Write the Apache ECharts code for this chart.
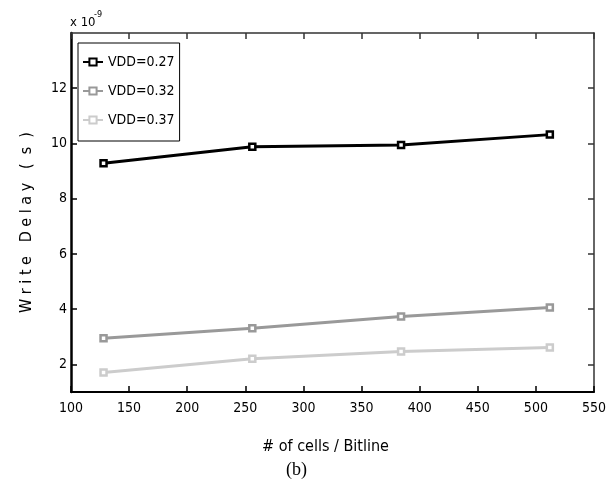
<!DOCTYPE html>
<html><head><meta charset="utf-8">
<script src="https://cdn.jsdelivr.net/npm/echarts@6/dist/echarts.min.js"></script>
<style>html,body{margin:0;padding:0;background:#fff}#c{width:615px;height:488px}</style>
</head><body><div id="c"></div>
<script>
const cells = [128, 256, 384, 512];
const vdd027 = [9.28, 9.88, 9.94, 10.32];
const vdd032 = [2.95, 3.31, 3.73, 4.06];
const vdd037 = [1.71, 2.20, 2.47, 2.61];
const seriesNames = ['VDD=0.27', 'VDD=0.32', 'VDD=0.37'];
const yTicks = [2, 4, 6, 8, 10, 12];

const FONT = "'Liberation Sans Narrow', 'Arial Narrow', 'DejaVu Sans Condensed', sans-serif";
const colors = ['#000000', '#999999', '#cccccc'];
const pair = (ys) => cells.map((x, i) => [x, ys[i]]);

function mkSeries(name, ys, col) {
  return {
    name, type: 'line', data: pair(ys),
    symbol: 'rect', symbolSize: 6,
    lineStyle: { color: col, width: 3 },
    itemStyle: { color: '#ffffff', borderColor: col, borderWidth: 2.5 },
    emphasis: { disabled: true }, animation: false
  };
}

const chart = echarts.init(document.getElementById('c'), null, { renderer: 'canvas' });
chart.setOption({
  backgroundColor: '#fff',
  animation: false,
  grid: { left: 71, right: 21, top: 33, bottom: 96, containLabel: false },
  legend: {
    data: seriesNames, orient: 'vertical', left: 78, top: 43,
    backgroundColor: '#fff',
    borderColor: '#000', borderWidth: 1, padding: [11, 5, 13, 4],
    itemWidth: 20, itemHeight: 9, itemGap: 13,
    textStyle: { fontFamily: FONT, fontSize: 14, color: '#000', lineHeight: 16 }
  },
  xAxis: [{
    type: 'value', min: 100, max: 550, interval: 50, position: 'bottom',
    name: '# of cells / Bitline', nameLocation: 'middle', nameGap: 47,
    nameTextStyle: { fontFamily: FONT, fontSize: 16, color: '#000', padding: [0, 14, 0, 0] },
    axisLine: { onZero: false, lineStyle: { color: '#000', width: 2 } },
    axisTick: { inside: true, length: 6, lineStyle: { color: '#000', width: 1.5 } },
    axisLabel: { fontFamily: FONT, fontSize: 14, color: '#000', margin: 9 },
    splitLine: { show: false }
  }, {
    type: 'value', min: 100, max: 550, interval: 50, position: 'top',
    axisLine: { onZero: false, lineStyle: { color: '#333', width: 1.5 } },
    axisTick: { inside: true, length: 6, lineStyle: { color: '#333', width: 1.5 } },
    axisLabel: { show: false }, splitLine: { show: false }
  }],
  yAxis: [{
    type: 'value', min: 1, max: 14, position: 'left',
    name: 'W r i t e   D e l a y   (  s  )', nameLocation: 'middle', nameGap: 36, nameRotate: 90,
    nameTextStyle: { fontFamily: FONT, fontSize: 16, color: '#000', padding: [0, 20, 0, 0] },
    axisLine: { onZero: false, lineStyle: { color: '#000', width: 2.5 } },
    axisTick: { inside: true, length: 6, customValues: yTicks, lineStyle: { color: '#000', width: 1.5 } },
    axisLabel: { fontFamily: FONT, fontSize: 14, color: '#000', margin: 4, customValues: yTicks },
    splitLine: { show: false }
  }, {
    type: 'value', min: 1, max: 14, position: 'right',
    axisLine: { onZero: false, lineStyle: { color: '#333', width: 1.5 } },
    axisTick: { inside: true, length: 6, customValues: yTicks, lineStyle: { color: '#333', width: 1.5 } },
    axisLabel: { show: false }, splitLine: { show: false }
  }],
  graphic: [
    { type: 'text', left: 70, top: 16, style: { text: 'x 10', fontFamily: FONT, fontSize: 13, fill: '#000' } },
    { type: 'text', left: 94, top: 10, style: { text: '-9', fontFamily: FONT, fontSize: 9, fill: '#000' } },
    { type: 'text', left: 286, top: 461, style: { text: '(b)', fontFamily: "'Liberation Serif', 'DejaVu Serif', serif", fontSize: 18, fill: '#000' } }
  ],
  series: [
    mkSeries(seriesNames[0], vdd027, colors[0]),
    mkSeries(seriesNames[1], vdd032, colors[1]),
    mkSeries(seriesNames[2], vdd037, colors[2])
  ]
});
</script></body></html>
